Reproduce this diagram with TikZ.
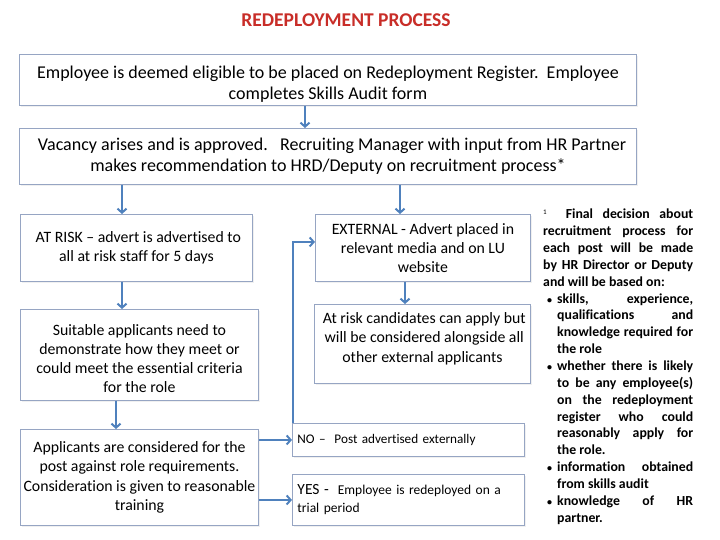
\documentclass[tikz,border=0pt]{standalone}
\usepackage{fontspec}
\setmainfont{Carlito}[Ligatures={NoCommon}]
\usetikzlibrary{arrows.meta,shadows}
\definecolor{boxline}{RGB}{150,165,195}
\definecolor{arrcol}{RGB}{79,129,189}
\definecolor{titlered}{RGB}{200,45,40}
\newcommand\mystrut[1]{\rule{0pt}{#1}}
\newcommand\mybul{\noindent\hangindent=14pt\hangafter=1\makebox[14pt][l]{\hspace{4pt}{\fontsize{10}{10}\selectfont\textbullet}}}
\begin{document}
\begin{tikzpicture}[x=1pt,y=-1pt,
  box/.style={draw=boxline, line width=0.9pt, fill=white, align=center, inner sep=3pt,
    anchor=north west, drop shadow={shadow xshift=1.5pt, shadow yshift=-2pt, opacity=0.12}},
  bigtxt/.style={font=\fontsize{18}{21}\selectfont},
  midtxt/.style={font=\fontsize{15.8}{19.2}\selectfont},
  conn/.style={draw=arrcol, line width=2pt, -{Straight Barb[length=4pt,width=9pt]}}]
\useasboundingbox (0,0) rectangle (720,540);

\node[font=\bfseries\fontsize{19.5}{20}\selectfont, text=titlered] (title) at (346,20.5) {REDEPLOYMENT PROCESS};

\node[box, bigtxt, minimum width=617, minimum height=51, inner sep=0pt] (elig) at (19,54)
  {\mystrut{21pt}Employee is deemed eligible to be placed on Redeployment Register.\ \ Employee\\completes Skills Audit form};
\node[box, bigtxt, minimum width=617, minimum height=56, inner sep=0pt] (vac) at (19,128)
  {\ \ Vacancy arises and is approved.\ \ \ Recruiting Manager with input from HR Partner\\makes recommendation to HRD/Deputy on recruitment process*};

\node[box, midtxt, minimum width=232, minimum height=67, inner sep=0pt] (risk) at (20,214)
  {\ AT RISK -- advert is advertised to\\all at risk staff for 5 days};
\node[box, midtxt, minimum width=238, minimum height=91, inner sep=0pt] (suit) at (20,309)
  {\mystrut{18pt}Suitable applicants need to\\demonstrate how they meet or\\could meet the essential criteria\\for the role};
\node[box, midtxt, minimum width=238, minimum height=96, inner sep=0pt] (appl) at (20,429)
  {Applicants are considered for the\\post against role requirements.\\Consideration is given to reasonable\\training};

\node[box, midtxt, minimum width=215, minimum height=67, inner sep=0pt] (ext) at (315,214)
  {EXTERNAL - Advert placed in\\relevant media and on LU\\website};
\node[box, midtxt, minimum width=216, minimum height=79, inner sep=0pt] (cand) at (314,304)
  {\ At risk candidates can apply but\\\ will be considered alongside all\\other external applicants\\[-6pt]};

\node[box, font=\fontsize{13.2}{14}\selectfont, minimum width=232, minimum height=33, text width=222, align=left] (no) at (292,423)
  {NO --\ \ Post advertised externally};
\node[box, font=\fontsize{13.5}{18}\selectfont, minimum width=232, minimum height=51, text width=222, align=left] (yes) at (292,474)
  {{\fontsize{15.5}{18}\selectfont YES -}\ \ Employee is redeployed on a\\trial period};

\node[anchor=north west, inner sep=0pt, text width=150, align=justify,
  font=\bfseries\fontsize{13.8}{16.85}\selectfont] (note) at (543,209)
  {\hyphenpenalty=10000 \exhyphenpenalty=10000 \hfuzz=10pt
  \noindent{\mdseries\fontsize{7}{7}\selectfont\raisebox{4pt}{1}}\ \ Final decision about\linebreak recruitment process for\linebreak each post will be made\linebreak by HR Director or Deputy\linebreak and will be based on:\par
  \mybul skills, experience,\linebreak qualifications and\linebreak knowledge required for\linebreak the role\par
  \mybul whether there is likely\linebreak to be any employee(s)\linebreak on the redeployment\linebreak register who could\linebreak reasonably apply for\linebreak the role.\par
  \mybul information obtained\linebreak from skills audit\par
  \mybul knowledge of HR\linebreak partner.\par};

\coordinate (xa) at (305,0);
\coordinate (xb) at (122,0);
\coordinate (xc) at (400,0);
\coordinate (xd) at (116,0);
\coordinate (xe) at (405,0);
\coordinate (xf) at (293,0);

\draw[conn] (elig.south -| xa) -- (vac.north -| xa);
\draw[conn] (vac.south -| xb) -- (risk.north -| xb);
\draw[conn] (vac.south -| xc) -- (ext.north -| xc);
\draw[conn] (risk.south -| xb) -- (suit.north -| xb);
\draw[conn] (suit.south -| xd) -- (appl.north -| xd);
\draw[conn] (ext.south -| xe) -- (cand.north -| xe);
\draw[conn] (appl.east |- no.west) -- (no.west);
\draw[conn] (appl.east |- yes.west) -- (yes.west);
\draw[conn] (no.north -| xf) |- ([yshift=6pt]ext.west);
\end{tikzpicture}
\end{document}
